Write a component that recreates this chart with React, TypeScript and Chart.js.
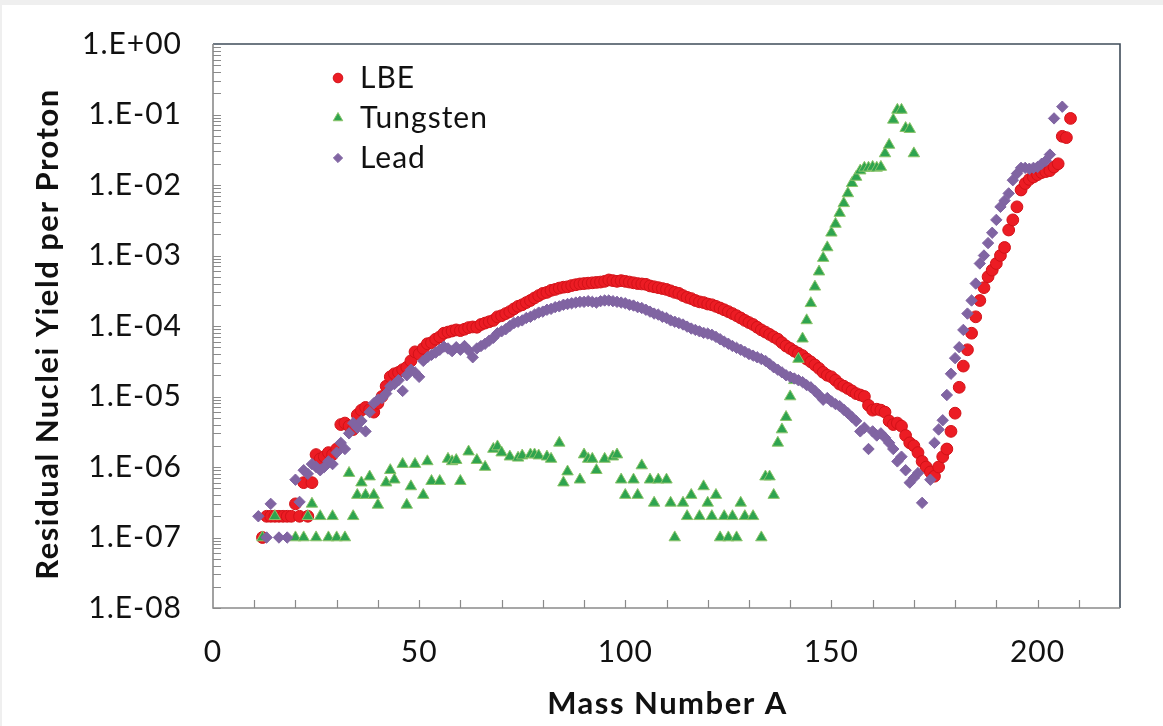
import React, { useEffect, useRef } from 'react';
import { Chart, registerables } from 'chart.js';
import { drawPoint } from 'chart.js/helpers';

Chart.register(...registerables);

const FONT = 'Lato, "Open Sans", sans-serif';

// ---------- data ----------
const lbeMass = [
  12, 13, 14, 15, 16, 17, 18, 19, 20, 21, 22, 23, 24, 25, 26, 27, 28, 29, 30, 31,
  32, 33, 34, 35, 36, 37, 38, 39, 40, 41, 42, 43, 44, 45, 46, 47, 48, 49, 50, 51,
  52, 53, 54, 55, 56, 57, 58, 59, 60, 61, 62, 63, 64, 65, 66, 67, 68, 69, 70, 71,
  72, 73, 74, 75, 76, 77, 78, 79, 80, 81, 82, 83, 84, 85, 86, 87, 88, 89, 90, 91,
  92, 93, 94, 95, 96, 97, 98, 99, 100, 101, 102, 103, 104, 105, 106, 107, 108, 109, 110, 111,
  112, 113, 114, 115, 116, 117, 118, 119, 120, 121, 122, 123, 124, 125, 126, 127, 128, 129, 130, 131,
  132, 133, 134, 135, 136, 137, 138, 139, 140, 141, 142, 143, 144, 145, 146, 147, 148, 149, 150, 151,
  152, 153, 154, 155, 156, 157, 158, 159, 160, 161, 162, 163, 164, 165, 166, 167, 168, 169, 170, 171,
  172, 173, 174, 175, 176, 177, 178, 179, 180, 181, 182, 183, 184, 185, 186, 187, 188, 189, 190, 191,
  192, 193, 194, 195, 196, 197, 198, 199, 200, 201, 202, 203, 204, 205, 206, 207, 208,
];
const lbeYield = [
  1e-7, 2e-7, 2e-7, 2e-7, 2e-7, 2e-7, 2e-7, 2e-7, 3e-7, 2e-7, 6e-7, 2e-7, 6e-7, 1.5e-6, 1.3e-6, 1.4e-6, 1.6e-6, 1.5e-6, 1.8e-6, 4e-6,
  4.2e-6, 3.8e-6, 3.4e-6, 5.5e-6, 6.4e-6, 7e-6, 6.5e-6, 6e-6, 8e-6, 1e-5, 1.4e-5, 1.9e-5, 2.1e-5, 2.2e-5, 2.4e-5, 2.6e-5, 3.2e-5, 4.3e-5, 4.0e-5, 4.8e-5,
  5.6e-5, 5.8e-5, 6.5e-5, 7.0e-5, 7.9e-5, 8.2e-5, 8.5e-5, 8.8e-5, 8.6e-5, 9.0e-5, 9.5e-5, 9.7e-5, 9.6e-5, 1.05e-4, 1.1e-4, 1.15e-4, 1.2e-4, 1.35e-4, 1.4e-4, 1.5e-4,
  1.6e-4, 1.75e-4, 1.9e-4, 2.0e-4, 2.15e-4, 2.3e-4, 2.5e-4, 2.7e-4, 2.9e-4, 3.0e-4, 3.2e-4, 3.3e-4, 3.45e-4, 3.55e-4, 3.6e-4, 3.75e-4, 3.85e-4, 3.95e-4, 4.0e-4, 4.05e-4,
  4.1e-4, 4.15e-4, 4.2e-4, 4.3e-4, 4.5e-4, 4.4e-4, 4.3e-4, 4.4e-4, 4.3e-4, 4.2e-4, 4.1e-4, 4.0e-4, 3.95e-4, 3.9e-4, 3.7e-4, 3.6e-4, 3.5e-4, 3.4e-4, 3.3e-4, 3.15e-4,
  3.0e-4, 2.9e-4, 2.7e-4, 2.55e-4, 2.45e-4, 2.3e-4, 2.2e-4, 2.15e-4, 2.05e-4, 2.0e-4, 1.9e-4, 1.8e-4, 1.7e-4, 1.6e-4, 1.5e-4, 1.4e-4, 1.3e-4, 1.2e-4, 1.12e-4, 1.05e-4,
  9.6e-5, 8.8e-5, 8.2e-5, 7.6e-5, 7.0e-5, 6.5e-5, 5.8e-5, 5.2e-5, 4.8e-5, 4.4e-5, 4.1e-5, 3.8e-5, 3.4e-5, 3.1e-5, 2.8e-5, 2.5e-5, 2.2e-5, 2.0e-5, 1.9e-5, 1.7e-5,
  1.5e-5, 1.4e-5, 1.3e-5, 1.2e-5, 1.1e-5, 1.05e-5, 1.0e-5, 7.5e-6, 6.4e-6, 6.6e-6, 6.4e-6, 6.0e-6, 4.5e-6, 4.0e-6, 4.2e-6, 3.8e-6, 2.8e-6, 2.2e-6, 2.0e-6, 1.6e-6,
  1.2e-6, 1.0e-6, 8.5e-7, 7.4e-7, 1.0e-6, 1.4e-6, 1.8e-6, 3.2e-6, 5.8e-6, 1.35e-5, 2.7e-5, 4.6e-5, 7.9e-5, 1.35e-4, 2.3e-4, 3.5e-4, 5.0e-4, 6.2e-4, 7.7e-4, 1.0e-3,
  1.3e-3, 2.3e-3, 3.2e-3, 4.9e-3, 8.5e-3, 1.05e-2, 1.2e-2, 1.3e-2, 1.4e-2, 1.5e-2, 1.55e-2, 1.6e-2, 1.8e-2, 2.0e-2, 4.9e-2, 4.7e-2, 8.8e-2,
];

const tungstenMass = [
  12, 15, 20, 22, 23, 24, 25, 26, 28, 29, 30, 32, 33, 34, 35, 36, 37, 38, 39, 40,
  42, 43, 44, 46, 47, 48, 49, 51, 52, 53, 55, 57, 58, 59, 60, 62, 64, 66, 68, 69,
  70, 72, 74, 75, 77, 78, 79, 81, 82, 84, 85, 86, 89, 90, 91, 92, 93, 95, 97, 98,
  99, 100, 102, 103, 104, 106, 107, 108, 110, 111, 112, 114, 115, 116, 118, 119, 120, 121, 122, 123,
  124, 125, 126, 127, 128, 129, 131, 133, 134, 135, 136, 137, 138, 139, 140, 141, 142, 143, 144, 145,
  146, 147, 148, 149, 150, 151, 152, 153, 154, 155, 156, 157, 158, 159, 160, 161, 162, 163, 164, 165,
  166, 167, 168, 169, 170,
];
const tungstenYield = [
  1e-7, 2e-7, 1e-7, 1e-7, 2e-7, 3e-7, 1e-7, 2e-7, 1e-7, 2e-7, 1e-7, 1e-7, 8.2e-7, 2e-7, 4e-7, 6e-7, 4e-7, 7.3e-7, 4e-7, 2.9e-7,
  6e-7, 9e-7, 6.6e-7, 1.1e-6, 2.9e-7, 5.3e-7, 1.1e-6, 4e-7, 1.2e-6, 6.3e-7, 6.3e-7, 1.3e-6, 1.2e-6, 1.25e-6, 6.3e-7, 1.65e-6, 1.25e-6, 1e-6, 1.8e-6, 1.95e-6,
  1.6e-6, 1.4e-6, 1.35e-6, 1.45e-6, 1.5e-6, 1.5e-6, 1.45e-6, 1.4e-6, 1.3e-6, 2.2e-6, 6e-7, 8.6e-7, 6.6e-7, 1.5e-6, 1.3e-6, 1.3e-6, 9e-7, 1.3e-6, 1.4e-6, 1.5e-6,
  6.6e-7, 4e-7, 6.6e-7, 4e-7, 1.05e-6, 6.6e-7, 3.1e-7, 6.6e-7, 6.6e-7, 3.1e-7, 1e-7, 3.1e-7, 2e-7, 4e-7, 2e-7, 5.3e-7, 3.1e-7, 2e-7, 4e-7, 1e-7,
  2e-7, 1e-7, 2e-7, 1e-7, 3.1e-7, 2e-7, 2e-7, 1e-7, 7.3e-7, 7.3e-7, 4e-7, 2.2e-6, 3.4e-6, 5.1e-6, 1e-5, 1.7e-5, 3.4e-5, 6.6e-5, 1.2e-4, 2.1e-4,
  3.6e-4, 5.9e-4, 9.2e-4, 1.3e-3, 2.1e-3, 2.8e-3, 4e-3, 5.5e-3, 7.6e-3, 1.06e-2, 1.3e-2, 1.6e-2, 1.75e-2, 1.75e-2, 1.8e-2, 1.75e-2, 1.8e-2, 2.8e-2, 3.7e-2, 8.4e-2,
  0.116, 0.116, 6.4e-2, 6.2e-2, 2.8e-2,
];

const leadMass = [
  11, 13, 14, 16, 18, 20, 21, 22, 23, 24, 25, 26, 27, 28, 29, 30, 31, 32, 33, 34,
  35, 36, 37, 38, 39, 40, 41, 42, 43, 44, 45, 46, 47, 48, 49, 50, 51, 52, 53, 54,
  55, 56, 57, 58, 59, 60, 61, 62, 63, 64, 65, 66, 67, 68, 69, 70, 71, 72, 73, 74,
  75, 76, 77, 78, 79, 80, 81, 82, 83, 84, 85, 86, 87, 88, 89, 90, 91, 92, 93, 94,
  95, 96, 97, 98, 99, 100, 101, 102, 103, 104, 105, 106, 107, 108, 109, 110, 111, 112, 113, 114,
  115, 116, 117, 118, 119, 120, 121, 122, 123, 124, 125, 126, 127, 128, 129, 130, 131, 132, 133, 134,
  135, 136, 137, 138, 139, 140, 141, 142, 143, 144, 145, 146, 147, 148, 149, 150, 151, 152, 153, 154,
  155, 156, 157, 158, 159, 160, 161, 162, 163, 164, 165, 166, 167, 168, 169, 170, 171, 172, 174, 175,
  176, 177, 178, 179, 180, 181, 182, 183, 184, 185, 186, 187, 188, 189, 190, 191, 192, 193, 194, 195,
  196, 197, 198, 199, 200, 201, 202, 203, 204, 206,
];
const leadYield = [
  2e-7, 1e-7, 3e-7, 1e-7, 1e-7, 6.6e-7, 3.2e-7, 9e-7, 8e-7, 1.1e-6, 1.0e-6, 9e-7, 1.0e-6, 1.2e-6, 1.1e-6, 1.6e-6, 2.2e-6, 1.8e-6, 3e-6, 4.2e-6,
  3.6e-6, 4.5e-6, 3.2e-6, 6e-6, 8e-6, 9e-6, 9.5e-6, 1.1e-5, 1.4e-5, 1.5e-5, 1.7e-5, 1.2e-5, 2e-5, 2.4e-5, 2.2e-5, 1.9e-5, 3.2e-5, 3.6e-5, 3.9e-5, 4.2e-5,
  4.6e-5, 5.1e-5, 4.8e-5, 4.4e-5, 5.0e-5, 4.6e-5, 5.2e-5, 4.5e-5, 3.6e-5, 4.8e-5, 5.2e-5, 5.6e-5, 6.2e-5, 6.8e-5, 7.9e-5, 8.4e-5, 9e-5, 1e-4, 1.1e-4, 1.15e-4,
  1.2e-4, 1.3e-4, 1.35e-4, 1.45e-4, 1.55e-4, 1.6e-4, 1.7e-4, 1.75e-4, 1.85e-4, 1.9e-4, 2.0e-4, 2.05e-4, 2.1e-4, 2.15e-4, 2.2e-4, 2.2e-4, 2.25e-4, 2.2e-4, 2.15e-4, 2.25e-4,
  2.3e-4, 2.3e-4, 2.25e-4, 2.2e-4, 2.15e-4, 2.1e-4, 2.0e-4, 1.95e-4, 1.85e-4, 1.8e-4, 1.7e-4, 1.6e-4, 1.5e-4, 1.45e-4, 1.35e-4, 1.3e-4, 1.2e-4, 1.15e-4, 1.1e-4, 1.05e-4,
  9.8e-5, 9.2e-5, 8.8e-5, 8.4e-5, 8.0e-5, 7.8e-5, 7.5e-5, 7.0e-5, 6.5e-5, 6.0e-5, 5.6e-5, 5.2e-5, 4.9e-5, 4.6e-5, 4.3e-5, 4.0e-5, 3.8e-5, 3.6e-5, 3.4e-5, 3.2e-5,
  2.9e-5, 2.6e-5, 2.4e-5, 2.2e-5, 2.0e-5, 1.9e-5, 1.8e-5, 1.7e-5, 1.6e-5, 1.45e-5, 1.35e-5, 1.2e-5, 1.05e-5, 9.0e-6, 9.5e-6, 8.5e-6, 7.8e-6, 7.3e-6, 6.5e-6, 5.8e-6,
  5.1e-6, 4.5e-6, 3.2e-6, 3.6e-6, 1.8e-6, 3.2e-6, 2.8e-6, 3.0e-6, 2.6e-6, 2.2e-6, 1.8e-6, 1.2e-6, 1.4e-6, 9e-7, 6e-7, 7e-7, 8.2e-7, 3.1e-7, 6.6e-7, 2.2e-6,
  3.4e-6, 4.6e-6, 1.05e-5, 2.1e-5, 3.5e-5, 5.0e-5, 8.8e-5, 1.5e-4, 2.3e-4, 4.0e-4, 7.7e-4, 1.0e-3, 1.5e-3, 2.1e-3, 3.2e-3, 4.9e-3, 6e-3, 7.6e-3, 1.17e-2, 1.45e-2,
  1.75e-2, 1.75e-2, 1.7e-2, 1.75e-2, 1.8e-2, 2.0e-2, 2.2e-2, 2.7e-2, 8.8e-2, 0.129,
];

const seriesNames = ['LBE', 'Tungsten', 'Lead'];
const xTitle = 'Mass Number A';
const yTitle = 'Residual Nuclei Yield per Proton';

const xTickValues = [0, 50, 100, 150, 200];
const xTickLabels = ['0', '50', '100', '150', '200'];
const xMinorTicks = [10, 20, 30, 40, 50, 60, 70, 80, 90, 100, 110, 120, 130, 140, 150, 160, 170, 180, 190, 200, 210];
const yTickValues = [1e-8, 1e-7, 1e-6, 1e-5, 1e-4, 1e-3, 1e-2, 1e-1, 1];
const yTickLabels = ['1.E-08', '1.E-07', '1.E-06', '1.E-05', '1.E-04', '1.E-03', '1.E-02', '1.E-01', '1.E+00'];

const toPoints = (xs: number[], ys: number[]) => xs.map((x, i) => ({ x, y: ys[i] }));

// ---------- plugins ----------
const textSpacing = {
  id: 'textSpacing',
  beforeDraw(chart: any) {
    (chart.ctx as any).letterSpacing = '1px';
  },
};

const frameAndTicks = {
  id: 'frameAndTicks',
  beforeDatasetsDraw(chart: any) {
    const { ctx, chartArea } = chart;
    const { left, right, top, bottom } = chartArea;
    const xs = chart.scales.x;
    const ys = chart.scales.y;
    ctx.save();
    ctx.strokeStyle = '#8a8a8a';
    ctx.lineWidth = 1.2;
    ctx.beginPath();
    xMinorTicks.forEach((v) => {
      const px = Math.round(xs.getPixelForValue(v)) + 0.5;
      ctx.moveTo(px, bottom);
      ctx.lineTo(px, bottom - 8);
    });
    for (let i = 0; i < yTickValues.length - 1; i++) {
      for (let m = 1; m <= 9; m++) {
        const v = yTickValues[i] * m;
        const py = Math.round(ys.getPixelForValue(v)) + 0.5;
        ctx.moveTo(left, py);
        ctx.lineTo(left + 8, py);
      }
    }
    ctx.stroke();
    ctx.lineWidth = 1.6;
    ctx.strokeStyle = '#3f4c59';
    ctx.beginPath();
    ctx.moveTo(left, top);
    ctx.lineTo(right, top);
    ctx.lineTo(right, bottom);
    ctx.stroke();
    ctx.strokeStyle = '#8a8a8a';
    ctx.beginPath();
    ctx.moveTo(left, top);
    ctx.lineTo(left, bottom);
    ctx.lineTo(right, bottom);
    ctx.stroke();
    ctx.restore();
  },
};

const titlesAndLegend = {
  id: 'titlesAndLegend',
  afterDraw(chart: any) {
    const { ctx, chartArea } = chart;
    ctx.save();
    ctx.fillStyle = '#111';
    ctx.textBaseline = 'middle';
    ctx.textAlign = 'center';
    ctx.font = `bold 31px ${FONT}`;
    (ctx as any).letterSpacing = '1.5px';
    ctx.fillText(xTitle, (chartArea.left + chartArea.right) / 2 + 1, 699);
    ctx.save();
    ctx.translate(45.5, (chartArea.top + chartArea.bottom) / 2 + 8);
    ctx.rotate(-Math.PI / 2);
    ctx.fillText(yTitle, 0, 0);
    ctx.restore();

    const x0 = chartArea.left + 125;
    const y0 = chartArea.top + 34;
    const gap = 40;
    (ctx as any).letterSpacing = '1px';
    chart.data.datasets.forEach((ds: any, i: number) => {
      const y = y0 + i * gap;
      ctx.fillStyle = ds.backgroundColor;
      ctx.strokeStyle = ds.borderColor;
      ctx.lineWidth = 1;
      drawPoint(ctx, { pointStyle: ds.pointStyle, radius: ds.legendRadius, borderWidth: 1 } as any, x0, y);
      ctx.fillStyle = '#111';
      ctx.font = `30px ${FONT}`;
      ctx.textAlign = 'left';
      ctx.fillText(ds.label, x0 + 22, y);
    });
    ctx.restore();
  },
};

export default function App() {
  const ref = useRef<HTMLCanvasElement | null>(null);

  useEffect(() => {
    if (!ref.current) return;
    const chart = new Chart(ref.current, {
      type: 'scatter',
      data: {
        datasets: [
          {
            label: seriesNames[0],
            data: toPoints(lbeMass, lbeYield),
            pointStyle: 'circle',
            pointRadius: 5.9,
            backgroundColor: '#ec1c24',
            borderColor: '#d21218',
            borderWidth: 1,
            order: 3,
            legendRadius: 4.8,
          } as any,
          {
            label: seriesNames[1],
            data: toPoints(tungstenMass, tungstenYield),
            pointStyle: 'triangle',
            pointRadius: 6.6,
            backgroundColor: '#2ea44f',
            borderColor: '#8cc46a',
            borderWidth: 1,
            order: 2,
            legendRadius: 5.5,
          } as any,
          {
            label: seriesNames[2],
            data: toPoints(leadMass, leadYield),
            pointStyle: 'rectRot',
            pointRadius: 5.7,
            backgroundColor: '#8064a2',
            borderColor: '#8064a2',
            borderWidth: 1,
            order: 1,
            legendRadius: 4.6,
          } as any,
        ],
      },
      options: {
        responsive: false,
        animation: false,
        devicePixelRatio: 1,
        layout: { padding: { top: 39, right: 43, left: 0, bottom: 0 } },
        plugins: { legend: { display: false }, tooltip: { enabled: false } },
        scales: {
          x: {
            type: 'linear',
            min: 0,
            max: 220,
            grid: { display: false, drawTicks: false },
            border: { display: false },
            afterBuildTicks: (s: any) => {
              s.ticks = xTickValues.map((v) => ({ value: v }));
            },
            afterFit: (s: any) => {
              s.height = 118;
              s.paddingLeft = 0;
              s.paddingRight = 0;
            },
            ticks: {
              autoSkip: false,
              maxRotation: 0,
              padding: 26,
              color: '#111',
              font: { family: FONT, size: 30 },
              callback: (v: any) => xTickLabels[xTickValues.indexOf(Number(v))],
            },
          },
          y: {
            type: 'logarithmic',
            min: 1e-8,
            max: 1,
            grid: { display: false, drawTicks: false },
            border: { display: false },
            afterBuildTicks: (s: any) => {
              s.ticks = yTickValues.map((v) => ({ value: v }));
            },
            afterFit: (s: any) => {
              s.width = 211;
              s.paddingTop = 0;
              s.paddingBottom = 0;
            },
            ticks: {
              autoSkip: false,
              padding: 31,
              color: '#111',
              font: { family: FONT, size: 30 },
              callback: (v: any) => {
                const idx = yTickValues.findIndex((t) => Math.abs(t - Number(v)) / t < 1e-6);
                return idx >= 0 ? yTickLabels[idx] : '';
              },
            },
          },
        },
      },
      plugins: [textSpacing, frameAndTicks, titlesAndLegend],
    } as any);
    return () => chart.destroy();
  }, []);

  return (
    <div
      style={{
        position: 'absolute',
        left: 0,
        top: 0,
        width: 1163,
        height: 726,
        background: '#efefef',
      }}
    >
      <canvas
        ref={ref}
        width={1161}
        height={721}
        style={{ position: 'absolute', left: 2, top: 5, width: 1161, height: 721, background: '#ffffff' }}
      />
    </div>
  );
}
